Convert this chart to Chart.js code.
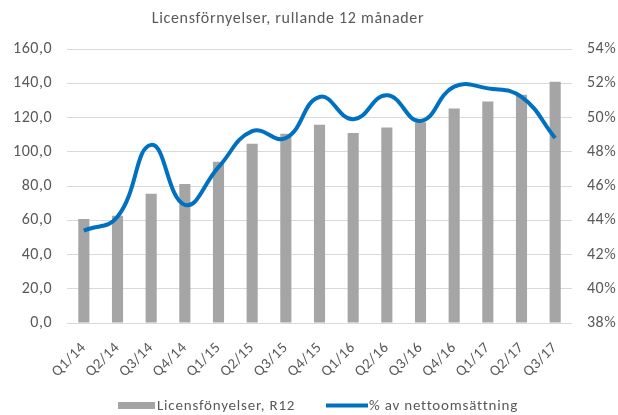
<!DOCTYPE html>
<html><head><meta charset="utf-8">
<script src="https://cdn.jsdelivr.net/npm/chart.js@4/dist/chart.umd.min.js"></script>
<style>html,body{margin:0;padding:0;background:#fff}#wrap{width:618px;height:415px}</style>
</head><body><div id="wrap"><canvas id="c" width="618" height="415"></canvas></div>
<script>
const categories = ["Q1/14","Q2/14","Q3/14","Q4/14","Q1/15","Q2/15","Q3/15","Q4/15","Q1/16","Q2/16","Q3/16","Q4/16","Q1/17","Q2/17","Q3/17"];
const renewals = [60.7, 62.7, 75.5, 81.2, 94.2, 104.7, 110.5, 115.8, 110.9, 114.2, 117.2, 125.3, 129.4, 133.3, 140.9];
const pctOfSales = [43.4, 44.2, 48.4, 44.9, 47.1, 49.2, 48.8, 51.2, 49.9, 51.3, 49.8, 51.8, 51.7, 51.2, 48.8];
const leftTicks = {min: 0, max: 160, step: 20};
const rightTicks = {min: 38, max: 54, step: 2};
const titleText = "Licensförnyelser, rullande 12 månader";
const seriesNames = ["Licensfönyelser, R12", "% av nettoomsättning"];

const FONT = "Carlito, Calibri, Lato, sans-serif";
const TXT = "#595959";

const spacing = {
  id: 'spacing',
  beforeLayout(chart) { chart.ctx.letterSpacing = '0.5px'; },
  beforeDraw(chart) { chart.ctx.letterSpacing = '0.5px'; }
};

const overlay = {
  id: 'overlay',
  afterDraw(chart) {
    const ctx = chart.ctx;
    ctx.save();
    ctx.fillStyle = TXT;
    ctx.letterSpacing = '0.7px';
    ctx.font = "16px " + FONT;
    ctx.textAlign = "center";
    ctx.textBaseline = "middle";
    ctx.fillText(titleText, 288, 19);
    // legend
    ctx.font = "15px " + FONT;
    ctx.letterSpacing = '0.8px';
    ctx.textAlign = "left";
    ctx.fillStyle = "#A5A5A5";
    ctx.fillRect(118, 402, 37, 7);
    ctx.fillStyle = TXT;
    ctx.fillText(seriesNames[0], 157, 406);
    ctx.strokeStyle = "#0070C0";
    ctx.lineWidth = 4;
    ctx.beginPath(); ctx.moveTo(326, 405.5); ctx.lineTo(368, 405.5); ctx.stroke();
    ctx.fillText(seriesNames[1], 369, 406);
    ctx.restore();
  }
};

new Chart(document.getElementById('c'), {
  data: {
    labels: categories,
    datasets: [
      {type: 'line', label: seriesNames[1], data: pctOfSales, yAxisID: 'y1', borderColor: '#0070C0', borderWidth: 4, pointRadius: 0, tension: 0.45, fill: false, order: 0},
      {type: 'bar', label: seriesNames[0], data: renewals, yAxisID: 'y', backgroundColor: '#A5A5A5', barPercentage: 0.33, categoryPercentage: 1, order: 1}
    ]
  },
  plugins: [spacing, overlay],
  options: {
    responsive: false,
    animation: false,
    layout: {padding: {top: 49, bottom: 32, left: 0, right: 0}},
    plugins: {legend: {display: false}, title: {display: false}, tooltip: {enabled: false}},
    scales: {
      x: {
        grid: {display: false}, border: {display: false},
        ticks: {color: TXT, font: {family: FONT, size: 15}, minRotation: 45, maxRotation: 45, padding: 8, autoSkip: false},
        afterFit(s) { s.height = 60; }
      },
      y: {
        position: 'left', min: leftTicks.min, max: leftTicks.max,
        grid: {color: '#D9D9D9', lineWidth: 1, drawTicks: false}, border: {display: false},
        ticks: {stepSize: leftTicks.step, color: TXT, font: {family: FONT, size: 16}, padding: 15,
          callback: v => v.toFixed(1).replace('.', ',')},
        afterFit(s) { s.width = 67; }
      },
      y1: {
        position: 'right', min: rightTicks.min, max: rightTicks.max,
        grid: {display: false, drawTicks: false}, border: {display: false},
        ticks: {stepSize: rightTicks.step, color: TXT, font: {family: FONT, size: 16}, padding: 15,
          callback: v => v + '%'},
        afterFit(s) { s.width = 46; }
      }
    }
  }
});
</script></body></html>
